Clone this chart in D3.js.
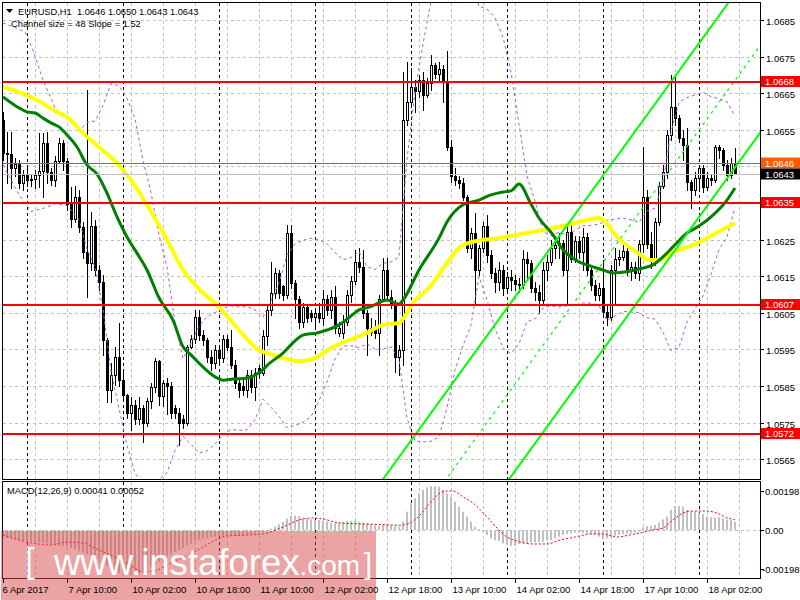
<!DOCTYPE html>
<html><head><meta charset="utf-8">
<script src="https://cdn.jsdelivr.net/npm/d3@7"></script>
<style>
body{margin:0;background:#fff}
svg{display:block}
text{font-family:"Liberation Sans",Arial,sans-serif;white-space:pre}
</style></head><body>
<svg id="chart" width="800" height="600"></svg>
<script>
// ---------------- DATA ----------------
const openP=[1.06577,1.06487,1.06484,1.06446,1.06457,1.06405,1.06427,1.06413,1.06416,1.06427,
1.06437,1.06514,1.06435,1.06413,1.06465,1.06514,1.06465,1.06347,1.06306,1.06366,
1.06284,1.06216,1.06186,1.06287,1.06167,1.06134,1.05976,1.05839,1.05880,1.05929,
1.05866,1.05825,1.05776,1.05798,1.05760,1.05790,1.05749,1.05809,1.05847,1.05918,
1.05823,1.05858,1.05850,1.05790,1.05776,1.05760,1.05749,1.05957,1.05979,1.06039,
1.05989,1.05976,1.05929,1.05913,1.05948,1.05927,1.05979,1.05957,1.05907,1.05858,
1.05850,1.05839,1.05880,1.05847,1.05899,1.05886,1.05987,1.06058,1.06104,1.06159,
1.06123,1.06099,1.06268,1.06131,1.06088,1.06025,1.06066,1.06050,1.06039,1.06050,
1.06036,1.06088,1.06058,1.06093,1.05995,1.05995,1.06025,1.06099,1.06137,1.06189,
1.06175,1.06050,1.05998,1.06008,1.05995,1.06088,1.06167,1.06093,1.06077,1.05929,
1.05948,1.06577,1.06626,1.06667,1.06656,1.06686,1.06645,1.06678,1.06727,1.06702,
1.06716,1.06683,1.06503,1.06424,1.06413,1.06405,1.06366,1.06227,1.06268,1.06167,
1.06227,1.06287,1.06208,1.06159,1.06134,1.06167,1.06118,1.06148,1.06140,1.06129,
1.06126,1.06197,1.06186,1.06118,1.06107,1.06085,1.06167,1.06189,1.06227,1.06235,
1.06241,1.06167,1.06271,1.06197,1.06246,1.06216,1.06257,1.06167,1.06126,1.06099,
1.06118,1.06052,1.06039,1.06167,1.06197,1.06203,1.06219,1.06164,1.06175,1.06159,
1.06238,1.06366,1.06238,1.06192,1.06298,1.06396,1.06435,1.06536,1.06612,1.06582,
1.06528,1.06509,1.06407,1.06386,1.06418,1.06446,1.06394,1.06418,1.06413,1.06503,
1.06495,1.06454,1.06427,1.06460];
const highP=[1.06599,1.06544,1.06544,1.06473,1.06468,1.06440,1.06454,1.06427,1.06440,1.06541,
1.06541,1.06544,1.06446,1.06478,1.06528,1.06522,1.06473,1.06394,1.06396,1.06386,
1.06298,1.06659,1.06325,1.06304,1.06181,1.06153,1.05981,1.05913,1.05957,1.06022,
1.05894,1.05828,1.05820,1.05812,1.05820,1.05798,1.05817,1.05858,1.05927,1.05921,
1.05866,1.05872,1.05861,1.05798,1.05790,1.05771,1.05962,1.05989,1.06058,1.06058,
1.06003,1.05981,1.05948,1.05962,1.05954,1.05989,1.05989,1.06003,1.05921,1.05866,
1.05866,1.05894,1.05894,1.05899,1.05907,1.06003,1.06071,1.06189,1.06172,1.06167,
1.06126,1.06290,1.06290,1.06140,1.06096,1.06077,1.06071,1.06058,1.06063,1.06077,
1.06112,1.06099,1.06112,1.06123,1.06025,1.06044,1.06112,1.06151,1.06222,1.06227,
1.06222,1.06058,1.06036,1.06030,1.06099,1.06200,1.06200,1.06112,1.06085,1.05962,
1.06708,1.06735,1.06719,1.06686,1.06700,1.06708,1.06692,1.06754,1.06733,1.06735,
1.06727,1.06765,1.06522,1.06446,1.06424,1.06418,1.06372,1.06282,1.06323,1.06235,
1.06298,1.06317,1.06222,1.06172,1.06189,1.06181,1.06162,1.06167,1.06153,1.06145,
1.06222,1.06216,1.06194,1.06134,1.06126,1.06189,1.06208,1.06249,1.06249,1.06268,
1.06249,1.06290,1.06298,1.06260,1.06260,1.06282,1.06268,1.06181,1.06140,1.06131,
1.06194,1.06071,1.06181,1.06227,1.06222,1.06235,1.06227,1.06189,1.06189,1.06249,
1.06503,1.06386,1.06271,1.06309,1.06407,1.06454,1.06549,1.06700,1.06700,1.06590,
1.06549,1.06555,1.06413,1.06435,1.06454,1.06454,1.06435,1.06427,1.06508,1.06508,
1.06500,1.06468,1.06473,1.06500];
const lowP=[1.06468,1.06405,1.06391,1.06424,1.06391,1.06386,1.06396,1.06396,1.06391,1.06394,
1.06366,1.06405,1.06399,1.06396,1.06459,1.06440,1.06331,1.06284,1.06298,1.06271,
1.06200,1.06093,1.06167,1.06153,1.06112,1.05935,1.05806,1.05806,1.05853,1.05850,
1.05812,1.05763,1.05730,1.05746,1.05746,1.05697,1.05741,1.05790,1.05834,1.05798,
1.05795,1.05774,1.05763,1.05763,1.05689,1.05735,1.05744,1.05954,1.05968,1.05976,
1.05962,1.05916,1.05894,1.05899,1.05916,1.05916,1.05948,1.05899,1.05845,1.05820,
1.05825,1.05820,1.05834,1.05812,1.05872,1.05880,1.05962,1.06044,1.06090,1.06090,
1.06085,1.06090,1.06118,1.06036,1.06008,1.06011,1.06025,1.06028,1.06014,1.06025,
1.06017,1.06044,1.06036,1.05995,1.05987,1.05981,1.06017,1.06080,1.06129,1.06162,
1.06036,1.05935,1.05989,1.05981,1.05935,1.06085,1.06085,1.06063,1.05888,1.05880,
1.05907,1.06563,1.06618,1.06599,1.06640,1.06604,1.06640,1.06659,1.06692,1.06686,
1.06626,1.06495,1.06407,1.06399,1.06391,1.06358,1.06216,1.06200,1.06077,1.06153,
1.06216,1.06189,1.06145,1.06107,1.06112,1.06099,1.06107,1.06112,1.06112,1.06107,
1.06118,1.06140,1.06107,1.06085,1.06050,1.06077,1.06140,1.06181,1.06200,1.06200,
1.06153,1.06077,1.06189,1.06189,1.06200,1.06167,1.06153,1.06112,1.06085,1.06085,
1.06041,1.06017,1.06030,1.06071,1.06181,1.06194,1.06153,1.06140,1.06145,1.06140,
1.06216,1.06227,1.06172,1.06181,1.06290,1.06391,1.06418,1.06522,1.06563,1.06517,
1.06468,1.06386,1.06336,1.06372,1.06386,1.06380,1.06386,1.06399,1.06407,1.06473,
1.06440,1.06413,1.06418,1.06430];
const closeP=[1.06487,1.06484,1.06446,1.06457,1.06405,1.06427,1.06413,1.06416,1.06427,1.06437,
1.06514,1.06435,1.06413,1.06465,1.06514,1.06465,1.06347,1.06306,1.06366,1.06284,
1.06216,1.06186,1.06287,1.06167,1.06134,1.05976,1.05839,1.05880,1.05929,1.05866,
1.05825,1.05776,1.05798,1.05760,1.05790,1.05749,1.05809,1.05847,1.05918,1.05823,
1.05858,1.05850,1.05776,1.05776,1.05749,1.05749,1.05957,1.05979,1.06039,1.05989,
1.05976,1.05929,1.05913,1.05948,1.05927,1.05979,1.05957,1.05907,1.05858,1.05839,
1.05839,1.05880,1.05847,1.05886,1.05886,1.05987,1.06058,1.06104,1.06159,1.06104,
1.06099,1.06268,1.06131,1.06088,1.06025,1.06066,1.06036,1.06039,1.06050,1.06036,
1.06088,1.06058,1.06093,1.06008,1.06008,1.06025,1.06099,1.06137,1.06189,1.06175,
1.06050,1.06008,1.06008,1.05995,1.06088,1.06167,1.06099,1.06077,1.05929,1.05948,
1.06577,1.06626,1.06667,1.06656,1.06686,1.06645,1.06678,1.06727,1.06702,1.06716,
1.06683,1.06503,1.06424,1.06413,1.06405,1.06366,1.06227,1.06268,1.06167,1.06227,
1.06287,1.06208,1.06159,1.06134,1.06167,1.06118,1.06148,1.06140,1.06129,1.06126,
1.06197,1.06186,1.06118,1.06107,1.06085,1.06167,1.06189,1.06227,1.06235,1.06241,
1.06167,1.06271,1.06197,1.06246,1.06216,1.06257,1.06167,1.06126,1.06099,1.06118,
1.06052,1.06039,1.06167,1.06197,1.06203,1.06219,1.06164,1.06175,1.06159,1.06238,
1.06366,1.06238,1.06192,1.06298,1.06396,1.06435,1.06536,1.06612,1.06582,1.06528,
1.06509,1.06407,1.06386,1.06418,1.06446,1.06394,1.06418,1.06413,1.06503,1.06495,
1.06454,1.06427,1.06460,1.06430];

// moving averages: [bar index, price]
const maSlow=[[0,1.06667],[4,1.06653],[8,1.06634],[14,1.06596],[16,1.06585],[20,1.06541],[24,1.06503],
[28.5,1.06459],[32.5,1.06405],[36.75,1.06331],[41,1.06249],[45,1.06167],[49,1.06115],[54,1.06066],
[59,1.06003],[64,1.05948],[66,1.05940],[70,1.05927],[74,1.05918],[78.5,1.05929],[82.5,1.05957],
[86.75,1.05976],[91,1.05995],[95,1.06017],[99,1.06022],[100,1.06033],[102.5,1.06077],[106.75,1.06121],
[111,1.06186],[114,1.06227],[117.5,1.06244],[124,1.06254],[132.5,1.06271],[141,1.06290],[144,1.06298],
[149,1.06309],[154,1.06252],[159,1.06211],[161.5,1.06194],[164,1.06194],[167.5,1.06216],[172.5,1.06235],
[177.5,1.06263],[183,1.06295]];
const maFast=[[0,1.06640],[4,1.06610],[6,1.06599],[8,1.06596],[10,1.06582],[12,1.06569],[14,1.06558],
[16,1.06536],[18.5,1.06503],[21,1.06454],[23.5,1.06429],[26,1.06377],[28.5,1.06312],[31,1.06257],
[33.5,1.06213],[36,1.06167],[39,1.06091],[42.5,1.06030],[45,1.05957],[47,1.05935],[50,1.05902],
[53.5,1.05872],[55,1.05866],[57.5,1.05869],[61,1.05872],[64,1.05886],[66.75,1.05913],[70,1.05940],
[72.5,1.05968],[75,1.05989],[78.5,1.05995],[81,1.06003],[84,1.06017],[86.75,1.06039],[89,1.06058],
[91.75,1.06066],[96,1.06085],[99,1.06074],[100,1.06085],[104,1.06167],[109,1.06254],[111,1.06298],
[115,1.06345],[119,1.06358],[122,1.06372],[125,1.06380],[127,1.06383],[129,1.06402],[132,1.06347],
[134,1.06309],[137.5,1.06263],[140,1.06222],[142,1.06203],[144,1.06189],[146,1.06181],[150,1.06167],
[152.5,1.06159],[156,1.06162],[159,1.06170],[162.5,1.06181],[165,1.06203],[167.5,1.06230],[171,1.06268],
[174,1.06287],[177.5,1.06317],[181,1.06358],[183,1.06391]];
// bollinger bands (20,2): [bar index, price]
const bandUpper=[[0,1.06842],[3,1.06830],[5.5,1.06817],[7.5,1.06768],[10,1.06686],[13,1.06610],[16,1.06580],[18,1.06560],
[19,1.06546],[21,1.06570],[23,1.06574],[25,1.06616],[27,1.06676],[29,1.06670],[31,1.06636],[33,1.06581],
[35,1.06466],[37,1.06379],[39,1.06262],[41,1.06175],[43,1.06024],[45,1.05925],[47,1.05967],[49,1.06014],
[51,1.06039],[53,1.06051],[55,1.06062],[57,1.06069],[59,1.06066],[61,1.06067],[63,1.06058],[65,1.06038],
[67,1.06083],[69,1.06132],[71,1.06208],[73,1.06238],[75,1.06248],[77,1.06254],[79,1.06249],[81,1.06239],
[83,1.06215],[85,1.06195],[87,1.06201],[89,1.06217],[91,1.06176],[93,1.06168],[95,1.06185],[97,1.06189],
[99,1.06203],[101,1.06469],[103,1.06653],[105,1.06785],[107,1.06901],[109,1.06994],[111,1.07028],[113,1.07007],
[115,1.06993],[117,1.06968],[119,1.06887],[121,1.06880],[123,1.06856],[125,1.06804],[127,1.06708],[129,1.06565],
[131,1.06424],[133,1.06355],[135,1.06273],[137,1.06260],[139,1.06270],[141,1.06262],[143,1.06275],[145,1.06288],
[147,1.06289],[149,1.06292],[151,1.06303],[153,1.06306],[155,1.06309],[157,1.06304],[159,1.06297],[161,1.06328],
[163,1.06336],[165,1.06407],[167,1.06544],[169,1.06625],[171,1.06638],[173,1.06645],[175,1.06652],[177,1.06641],
[179,1.06635],[181,1.06627],[183,1.06588]];
const bandLower=[[0,1.06454],[4,1.06373],[7,1.06327],[10,1.06335],[13,1.06348],[16,1.06343],[18,1.06317],
[19,1.06305],[21,1.06224],[23,1.06175],[25,1.06061],[27,1.05890],[29,1.05789],[31,1.05688],[33,1.05611],
[35,1.05582],[37,1.05569],[39,1.05595],[41,1.05613],[43,1.05674],[45,1.05712],[47,1.05691],[49,1.05667],
[51,1.05673],[53,1.05691],[55,1.05717],[57,1.05731],[59,1.05729],[61,1.05730],[63,1.05757],[65,1.05814],
[67,1.05792],[69,1.05767],[71,1.05736],[73,1.05742],[75,1.05751],[77,1.05766],[79,1.05810],[81,1.05862],
[83,1.05924],[85,1.05959],[87,1.05960],[89,1.05955],[91,1.05965],[93,1.05951],[95,1.05951],[97,1.05957],
[99,1.05922],[101,1.05762],[103,1.05700],[105,1.05697],[107,1.05699],[109,1.05711],[111,1.05790],[113,1.05894],
[115,1.05960],[117,1.06016],[119,1.06149],[121,1.06085],[123,1.06007],[125,1.05954],[127,1.05938],[129,1.05965],
[131,1.06026],[133,1.06033],[135,1.06063],[137,1.06069],[139,1.06066],[141,1.06069],[143,1.06071],[145,1.06077],
[147,1.06076],[149,1.06070],[151,1.06029],[153,1.06041],[155,1.06054],[157,1.06052],[159,1.06051],[161,1.06036],
[163,1.06033],[165,1.05997],[167,1.05947],[169,1.05955],[171,1.06025],[173,1.06061],[175,1.06096],[177,1.06156],
[179,1.06222],[181,1.06258],[183,1.06337]];

// regression channel lines: two points each [bar, price]
const channelUpper=[[80,1.05369],[195,1.07103]];
const channelMiddle=[[100,1.05433],[195,1.06866]];
const channelLower=[[120,1.05497],[195,1.06628]];

const macdHist=[-0.00039,-0.00042,-0.00044,-0.00047,-0.00051,-0.00054,-0.00056,-0.00058,-0.00061,-0.00064,
-0.00064,-0.00068,-0.00073,-0.00076,-0.00078,-0.00081,-0.00085,-0.00091,-0.00098,-0.00107,
-0.00115,-0.00124,-0.00129,-0.00135,-0.00149,-0.00166,-0.00183,-0.00196,-0.00208,-0.00217,
-0.00223,-0.00228,-0.00230,-0.00227,-0.00220,-0.00210,-0.00200,-0.00188,-0.00174,-0.00162,
-0.00149,-0.00135,-0.00124,-0.00112,-0.00102,-0.00091,-0.00078,-0.00068,-0.00058,-0.00051,
-0.00044,-0.00039,-0.00036,-0.00034,-0.00032,-0.00030,-0.00029,-0.00029,-0.00029,-0.00027,
-0.00025,-0.00024,-0.00022,-0.00019,-0.00015,-0.00010,-0.00005,0.00007,0.00017,0.00029,
0.00041,0.00058,0.00071,0.00074,0.00071,0.00063,0.00058,0.00054,0.00051,0.00051,
0.00046,0.00042,0.00037,0.00034,0.00037,0.00041,0.00046,0.00046,0.00046,0.00041,
0.00037,0.00034,0.00029,0.00024,0.00020,0.00029,0.00029,0.00024,0.00020,0.00017,
0.00042,0.00093,0.00135,0.00161,0.00186,0.00203,0.00217,0.00223,0.00223,0.00220,
0.00203,0.00186,0.00169,0.00144,0.00118,0.00093,0.00068,0.00042,0.00017,0.00003,
-0.00008,-0.00025,-0.00042,-0.00051,-0.00056,-0.00068,-0.00076,-0.00081,-0.00081,-0.00071,
-0.00068,-0.00068,-0.00064,-0.00063,-0.00061,-0.00059,-0.00054,-0.00051,-0.00042,-0.00034,
-0.00025,-0.00020,-0.00017,-0.00014,-0.00014,-0.00015,-0.00017,-0.00022,-0.00025,-0.00034,
-0.00047,-0.00042,-0.00034,-0.00029,-0.00025,-0.00022,-0.00019,-0.00017,-0.00012,-0.00008,
0.00014,0.00020,0.00020,0.00025,0.00037,0.00054,0.00068,0.00102,0.00122,0.00122,
0.00118,0.00102,0.00093,0.00093,0.00088,0.00081,0.00068,0.00064,0.00062,0.00064,
0.00058,0.00054,0.00050,0.00041];
const macdSignal=[[0,-0.00025],[4,-0.00051],[12,-0.00076],[16,-0.00061],[20,-0.00066],[24,-0.00102],
[28.5,-0.00142],[32.5,-0.00188],[35,-0.00213],[38.5,-0.00203],[42.5,-0.00162],[47.5,-0.00117],
[51.75,-0.00066],[56,-0.00030],[62,-0.00025],[66,-0.00015],[70,0.00015],[74,0.00051],[77.5,0.00061],
[80,0.00056],[84,0.00036],[91,0.00030],[97.5,0.00025],[99,0.00024],[101.75,0.00036],[104.25,0.00076],
[106.75,0.00137],[109.25,0.00188],[111,0.00198],[112.5,0.00198],[115,0.00168],[117.5,0.00137],
[121,0.00066],[123.5,0.00010],[126,-0.00036],[128.5,-0.00056],[132.5,-0.00071],[136,-0.00071],
[139.25,-0.00051],[141.75,-0.00041],[144.25,-0.00030],[146.75,-0.00020],[150,-0.00020],[153.5,-0.00036],
[156.75,-0.00025],[159.25,-0.00015],[162.5,0],[165,0.00010],[167.5,0.00051],[170,0.00086],[172,0.00096],
[176,0.00096],[178.5,0.00086],[181,0.00062],[183,0.00052]];

const timeTickBars=[0,16,32,48,64,80,96,112,128,144,160,176];
const timeTickLabels=["6 Apr 2017","7 Apr 10:00","10 Apr 02:00","10 Apr 18:00","11 Apr 10:00","12 Apr 02:00",
"12 Apr 18:00","13 Apr 10:00","14 Apr 02:00","14 Apr 18:00","17 Apr 10:00","18 Apr 02:00"];
const daySeparatorBars=[6,30,54,78,102,126,150,174];
const priceTicks=[1.0565,1.0575,1.0585,1.0595,1.0605,1.0615,1.0625,1.0635,1.0645,1.0655,1.0665,1.0675,1.0685];
const priceTickLabels=["1.0565","1.0575","1.0585","1.0595","1.0605","1.0615","1.0625","","","1.0655","1.0665","1.0675","1.0685"];
const levelPrices=[1.0668,1.0635,1.0607,1.0572];
const levelLabels=["1.0668","1.0635","1.0607","1.0572"];
const openLine=1.0646, bidLine=1.0643;
const macdTicks=[0.00198,0,-0.00198];
const macdTickLabels=["0.00198","0.00","-0.00198"];
const titleText="EURUSD,H1  1.0646 1.0650 1.0643 1.0643";
const channelText="Channel size = 48 Slope = 1.52";
const macdText="MACD(12,26,9) 0.00041 0.00052";

// ---------------- SCALES ----------------
const svg=d3.select("#chart");
const xS=d3.scaleLinear().domain([0,189.25]).range([3,760]);
const yS=d3.scaleLinear().domain([1.0565,1.0685]).range([459.2,20]);
const mS=d3.scaleLinear().domain([-0.00198,0.00198]).range([569,491]);
const PX=i=>Math.round(xS(i));
const defs=svg.append("defs");
defs.append("clipPath").attr("id","cm").append("rect").attr("x",3).attr("y",3).attr("width",757).attr("height",476);
defs.append("clipPath").attr("id","cd").append("rect").attr("x",3).attr("y",482).attr("width",757).attr("height",96);

const main=svg.append("g").attr("clip-path","url(#cm)");
const macd=svg.append("g").attr("clip-path","url(#cd)");
const gridBars=d3.range(8,190,8);

// grids
[[main,3,479],[macd,482,578]].forEach(([g,a,b])=>{
  g.selectAll(null).data(gridBars).join("line")
   .attr("x1",d=>PX(d)+0.5).attr("x2",d=>PX(d)+0.5).attr("y1",a).attr("y2",b)
   .attr("stroke","#c0c0c0").attr("stroke-dasharray","3,3");
});
main.selectAll(null).data(priceTicks).join("line")
  .attr("x1",3).attr("x2",760).attr("y1",d=>Math.round(yS(d))+0.5).attr("y2",d=>Math.round(yS(d))+0.5)
  .attr("stroke","#c0c0c0").attr("stroke-dasharray","3,3");
macd.append("line").attr("x1",3).attr("x2",760).attr("y1",Math.round(mS(0))+0.5).attr("y2",Math.round(mS(0))+0.5)
  .attr("stroke","#c0c0c0").attr("stroke-dasharray","3,3");
[[main,3,479],[macd,482,578]].forEach(([g,a,b])=>{
  g.selectAll(null).data(daySeparatorBars).join("line")
   .attr("x1",d=>PX(d)+0.5).attr("x2",d=>PX(d)+0.5).attr("y1",a).attr("y2",b)
   .attr("stroke","#000").attr("stroke-dasharray","3,3");
});

// candles
const bars=d3.range(closeP.length);
const cg=main.append("g");
cg.selectAll(null).data(bars).join("line")
  .attr("x1",i=>PX(i)+0.5).attr("x2",i=>PX(i)+0.5)
  .attr("y1",i=>Math.round(yS(highP[i]))).attr("y2",i=>Math.round(yS(lowP[i]))+1)
  .attr("stroke","#000");
cg.selectAll(null).data(bars).join("rect")
  .attr("x",i=>PX(i)-0.5).attr("width",2)
  .attr("y",i=>Math.round(yS(Math.max(openP[i],closeP[i])))+0.5)
  .attr("height",i=>Math.max(0,Math.round(yS(Math.min(openP[i],closeP[i])))-Math.round(yS(Math.max(openP[i],closeP[i])))))
  .attr("fill",i=>closeP[i]>=openP[i]?"#fff":"#000").attr("stroke","#000");

// bollinger bands
const lineP=d3.line().x(d=>xS(d[0])).y(d=>yS(d[1]));
[bandUpper,bandLower].forEach(s=>main.append("path").attr("d",lineP(s)).attr("fill","none")
  .attr("stroke","#b157d8").attr("stroke-dasharray","3,3"));

// moving averages
const curveP=d3.line().x(d=>xS(d[0])).y(d=>yS(d[1])).curve(d3.curveMonotoneX);
main.append("path").attr("d",curveP(maSlow)).attr("fill","none").attr("stroke","#ffff00").attr("stroke-width",4);
main.append("path").attr("d",curveP(maFast)).attr("fill","none").attr("stroke","#008000").attr("stroke-width",3);

// channel
main.append("path").attr("d",lineP(channelUpper)).attr("stroke","#00ff00").attr("stroke-width",2);
main.append("path").attr("d",lineP(channelLower)).attr("stroke","#00ff00").attr("stroke-width",2);
main.append("path").attr("d",lineP(channelMiddle)).attr("stroke","#00ff00").attr("stroke-width",1.2).attr("stroke-dasharray","3,4");

// horizontal level lines
main.append("line").attr("x1",3).attr("x2",760).attr("y1",Math.round(yS(bidLine))+0.5).attr("y2",Math.round(yS(bidLine))+0.5).attr("stroke","#c0c0c0");
main.append("line").attr("x1",3).attr("x2",760).attr("y1",Math.round(yS(openLine))+0.5).attr("y2",Math.round(yS(openLine))+0.5).attr("stroke","#ff4500");
main.selectAll(null).data(levelPrices).join("line")
  .attr("x1",3).attr("x2",760).attr("y1",d=>Math.round(yS(d))).attr("y2",d=>Math.round(yS(d)))
  .attr("stroke","#ff0000").attr("stroke-width",2);

// macd
macd.selectAll(null).data(bars).join("rect")
  .attr("x",i=>PX(i)-1).attr("width",2)
  .attr("y",i=>Math.min(mS(macdHist[i]),mS(0)))
  .attr("height",i=>Math.abs(mS(macdHist[i])-mS(0)))
  .attr("fill","#c0c0c0");
macd.append("path").attr("d",d3.line().x(d=>xS(d[0])).y(d=>mS(d[1])).curve(d3.curveMonotoneX)(macdSignal))
  .attr("fill","none").attr("stroke","#ff0000").attr("stroke-dasharray","2,2");

// frames
svg.append("rect").attr("x",2.5).attr("y",2.5).attr("width",758).attr("height",477).attr("fill","none").attr("stroke","#000");
svg.append("rect").attr("x",2.5).attr("y",481.5).attr("width",758).attr("height",97).attr("fill","none").attr("stroke","#000");

// watermark
const wm=svg.append("g").attr("font-family","Lato, 'Open Sans', sans-serif").attr("font-weight",300).attr("fill","#fff");
wm.append("rect").attr("x",1).attr("y",531).attr("width",375).attr("height",69).attr("fill","#d94848").attr("fill-opacity",0.5);
wm.append("text").attr("x",25).attr("y",573).attr("font-size",35).text("[");
wm.append("text").attr("x",364).attr("y",574).attr("font-size",29).text("]");
const wt=wm.append("text").attr("x",54).attr("y",575).attr("font-size",36.5);
wt.append("tspan").text("www.instaforex");
wt.append("tspan").attr("font-size",28).text(".com");

// price axis
const ax=svg.append("g").attr("font-size",9.5).attr("fill","#000");
priceTicks.forEach((p,k)=>{
  const y=Math.round(yS(p))+0.5;
  ax.append("line").attr("x1",761).attr("x2",764).attr("y1",y).attr("y2",y).attr("stroke","#000");
  if(priceTickLabels[k]) ax.append("text").attr("x",766).attr("y",y+4).text(priceTickLabels[k]);
});
levelPrices.forEach((p,k)=>{
  const y=Math.round(yS(p));
  ax.append("rect").attr("x",761).attr("y",y-6).attr("width",39).attr("height",11).attr("fill","#ff0000");
  ax.append("text").attr("x",765).attr("y",y+3).attr("fill","#fff").text(levelLabels[k]);
});
[[openLine,"#ff5a00"],[bidLine,"#000"]].forEach(([p,c])=>{
  const y=Math.round(yS(p));
  ax.append("rect").attr("x",761).attr("y",y-5.5).attr("width",39).attr("height",11).attr("fill",c);
  ax.append("text").attr("x",765).attr("y",y+3.5).attr("fill","#fff").text(p.toFixed(4));
});
macdTicks.forEach((v,k)=>{
  const y=Math.round(mS(v))+0.5;
  ax.append("line").attr("x1",761).attr("x2",764).attr("y1",y).attr("y2",y).attr("stroke","#000");
  ax.append("text").attr("x",v<0?762:765).attr("y",y+3.5).text(macdTickLabels[k]);
});
// time axis
timeTickBars.forEach((b,k)=>{
  const x=PX(b)+0.5;
  ax.append("line").attr("x1",x).attr("x2",x).attr("y1",579).attr("y2",583).attr("stroke","#000");
  ax.append("text").attr("x",x+(k===0?-1:1)).attr("y",593).text(timeTickLabels[k]);
});

// titles
svg.append("path").attr("d","M6,9 L13,9 L9.5,13 Z").attr("fill","#000");
svg.append("text").attr("x",18).attr("y",15).attr("font-size",9.3).text(titleText);
svg.append("text").attr("x",11).attr("y",27).attr("font-size",9.3).text(channelText);
svg.append("text").attr("x",7).attr("y",494).attr("font-size",9.3).text(macdText);
</script></body></html>
